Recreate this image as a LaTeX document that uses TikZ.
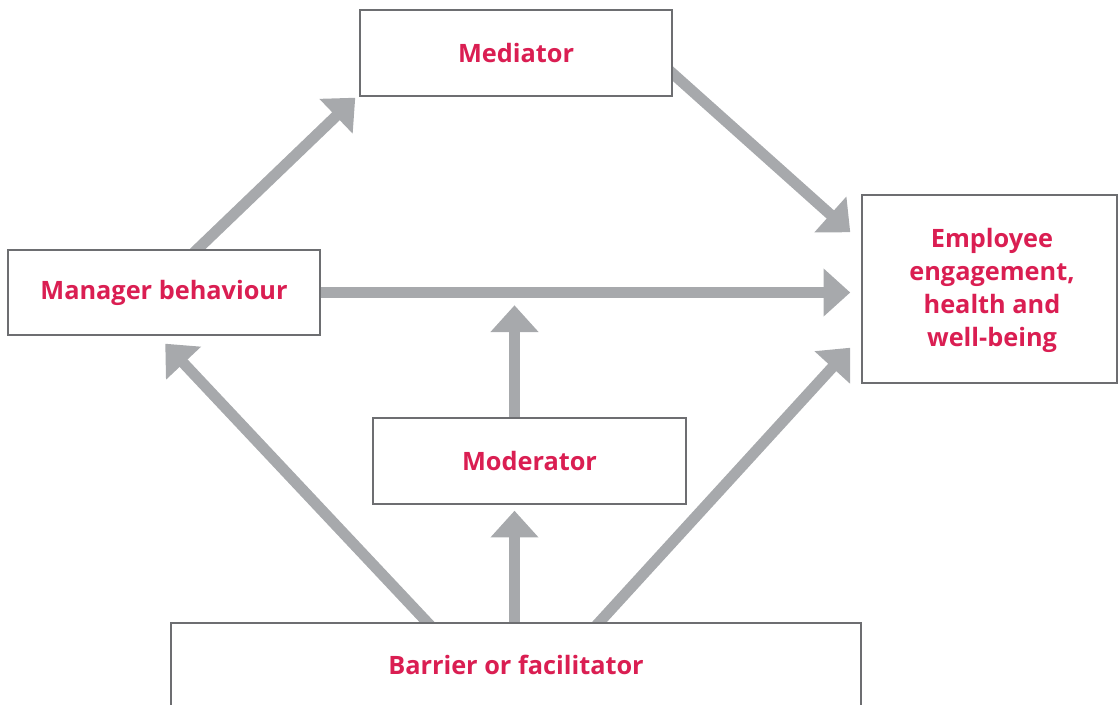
\documentclass[tikz,border=0pt]{standalone}
\usepackage{fontspec}
\setmainfont{Open Sans}
\usetikzlibrary{arrows.meta, calc, backgrounds}
\definecolor{crimson}{HTML}{DA1E52}
\definecolor{arrowgrey}{HTML}{A7A9AC}
\definecolor{framegrey}{HTML}{6D6E71}

\tikzset{
  box/.style={draw=framegrey, line width=1pt, fill=white, text=crimson,
    font=\bfseries\fontsize{18}{23.5}\selectfont, align=center, inner sep=0pt},
  bigarrow/.style={draw=arrowgrey, line width=7.8pt,
    -{Triangle[width=33pt, length=19pt]}},
}

\begin{document}
\begin{tikzpicture}[x=0.025cm, y=-0.025cm]
  \useasboundingbox (0,0) rectangle (1118,704);

  % boxes
  \node[box, minimum width=7.8cm,   minimum height=2.15cm]  (mediator)  at (516,53)     {Mediator};
  \node[box, minimum width=7.8cm,   minimum height=2.125cm] (manager)   at (164,292.5)  {Manager behaviour};
  \node[box, minimum width=6.375cm, minimum height=4.7cm]   (employee)  at (989.5,289)  {};
  \node[text=crimson, font=\bfseries\fontsize{18}{23.5}\selectfont, align=center] (employeetext) at (992,290.5) {Employee\\engagement,\\health and\\well-being};
  \node[box, minimum width=7.825cm, minimum height=2.15cm]  (moderator) at (529.5,461)  {Moderator};
  \node[box, minimum width=17.25cm, minimum height=2.1cm]   (barrier)   at (516,665)    {Barrier or facilitator};

  % arrows
  \begin{scope}[on background layer]
    \draw[bigarrow] ($(manager.north west)+(174.5,15)$) -- ($(mediator.south west)+(-4,1)$);
    \draw[bigarrow] ($(mediator.north east)+(-13,52.7)$) -- ($(employee.north west)+(-11,38)$);
    \draw[bigarrow] ($(manager.east)+(-15,0)$) -- ($(employee.west |- manager.east)+(-11,0)$);
    \draw[bigarrow] ($(moderator.north)+(-15,12)$) -- ($(moderator.north)+(-15,-112)$);
    \draw[bigarrow] ($(barrier.north)+(-1.5,15)$) -- ($(moderator.south)+(-15,6)$);
    \draw[bigarrow] ($(barrier.north west)+(273,17)$) -- ($(manager.south west)+(158,8)$);
    \draw[bigarrow] ($(barrier.north west)+(413.5,17)$) -- ($(employee.south west)+(-11,-36)$);
  \end{scope}
\end{tikzpicture}
\end{document}
